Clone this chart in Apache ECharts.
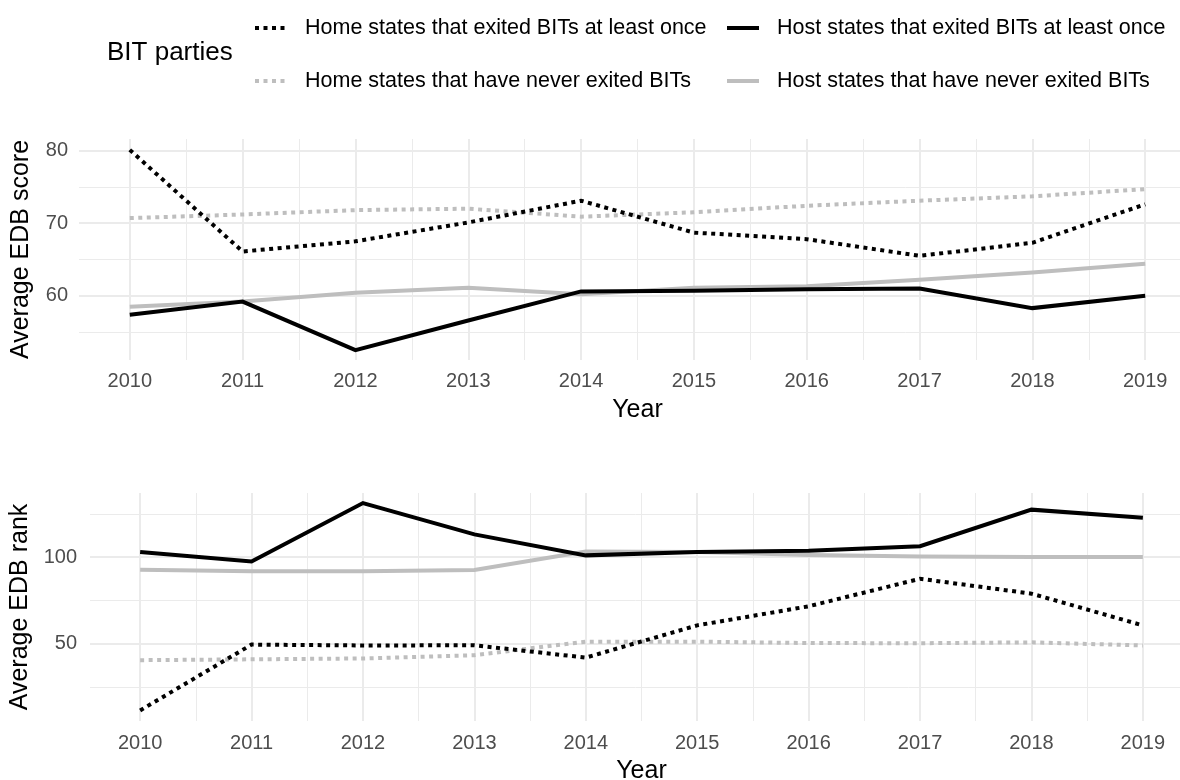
<!DOCTYPE html>
<html>
<head>
<meta charset="utf-8">
<title>BIT parties – EDB score and rank</title>
<script src="https://cdn.jsdelivr.net/npm/echarts@6/dist/echarts.min.js"></script>
<style>
  html, body { margin: 0; padding: 0; background: #ffffff; }
  #chart { width: 1180px; height: 780px; }
</style>
</head>
<body>
<div id="chart"></div>
<script>
// Years on the horizontal axis
const years = [2010, 2011, 2012, 2013, 2014, 2015, 2016, 2017, 2018, 2019];

// Average Ease of Doing Business score
const homeExitedScore = [80.1, 66.1, 67.5, 70.1, 73.1, 68.7, 67.8, 65.5, 67.3, 72.6];
const hostExitedScore = [57.4, 59.2, 52.5, 56.6, 60.6, 60.7, 60.9, 61.0, 58.3, 60.0];
const homeNeverScore  = [70.7, 71.2, 71.8, 72.0, 70.9, 71.5, 72.4, 73.1, 73.7, 74.7];
const hostNeverScore  = [58.5, 59.2, 60.4, 61.1, 60.2, 61.1, 61.3, 62.2, 63.2, 64.4];

// Average Ease of Doing Business rank
const homeExitedRank = [11.5, 49.5, 49.0, 49.1, 42.0, 60.6, 71.6, 87.5, 78.9, 60.6];
const hostExitedRank = [102.9, 97.5, 131.2, 113.1, 101.0, 102.9, 103.7, 106.3, 127.4, 122.7];
const homeNeverRank  = [40.5, 41.0, 41.5, 43.4, 51.2, 51.2, 50.4, 50.3, 50.8, 49.0];
const hostNeverRank  = [92.7, 91.9, 91.9, 92.6, 103.2, 102.9, 101.2, 100.4, 100.0, 100.0];

// Tick values (major and minor grid)
const yearTicks = years;
const yearMinorTicks = [2010.5, 2011.5, 2012.5, 2013.5, 2014.5, 2015.5, 2016.5, 2017.5, 2018.5];
const scoreTicks = [60, 70, 80];
const scoreMinorTicks = [55, 65, 75];
const rankTicks = [50, 100];
const rankMinorTicks = [25, 75, 125];

const seriesNames = [
  'Home states that exited BITs at least once',
  'Host states that exited BITs at least once',
  'Home states that have never exited BITs',
  'Host states that have never exited BITs'
];

const FONT = '"Liberation Sans", Arial, sans-serif';
const GRID_COLOR = '#EBEBEB';
const BLACK = '#000000';
const GREY = '#BEBEBE';
const DOTS = [4, 4.5];

const styles = [
  { color: BLACK, type: DOTS },
  { color: BLACK, type: 'solid' },
  { color: GREY, type: DOTS },
  { color: GREY, type: 'solid' }
];

function pairs(vals) { return years.map((y, i) => [y, vals[i]]); }

function xAxisFor(gridIndex, nameGap, labelMargin) {
  return {
    type: 'value', gridIndex,
    min: 2009.55, max: 2019.45,
    name: 'Year', nameLocation: 'middle', nameGap,
    nameTextStyle: { fontFamily: FONT, fontSize: 25, color: '#000' },
    axisLine: { show: false }, axisTick: { show: false },
    axisLabel: { customValues: yearTicks, fontFamily: FONT, fontSize: 20, color: '#4D4D4D', margin: labelMargin,
                 formatter: v => String(Math.round(v)) },
    splitLine: { show: false }
  };
}
function yAxisFor(gridIndex, min, max, ticks, name, nameGap, labelMargin) {
  return {
    type: 'value', gridIndex, min, max,
    name, nameLocation: 'middle', nameGap, nameRotate: 90,
    nameTextStyle: { fontFamily: FONT, fontSize: 25, color: '#000' },
    axisLine: { show: false }, axisTick: { show: false },
    axisLabel: { customValues: ticks, fontFamily: FONT, fontSize: 20, color: '#4D4D4D', margin: labelMargin },
    splitLine: { show: false }
  };
}

// Background panel grid: thick major lines, thin minor lines
function gridLines(gridIdx, yMajor, yMinor) {
  const major = { color: GRID_COLOR, width: 2, type: 'solid' };
  const minor = { color: GRID_COLOR, width: 1, type: 'solid' };
  const data = []
    .concat(yearMinorTicks.map(v => ({ xAxis: v, lineStyle: minor })))
    .concat(yMinor.map(v => ({ yAxis: v, lineStyle: minor })))
    .concat(yearTicks.map(v => ({ xAxis: v, lineStyle: major })))
    .concat(yMajor.map(v => ({ yAxis: v, lineStyle: major })));
  return {
    type: 'line', xAxisIndex: gridIdx, yAxisIndex: gridIdx, data: [], z: 1, silent: true,
    markLine: {
      silent: true, symbol: ['none', 'none'], animation: false, z: 1,
      label: { show: false }, emphasis: { disabled: true },
      data
    }
  };
}

function makeSeries(gridIdx, datasets) {
  return datasets.map((vals, i) => ({
    name: seriesNames[i],
    type: 'line',
    xAxisIndex: gridIdx,
    yAxisIndex: gridIdx,
    data: pairs(vals),
    symbol: 'none',
    silent: true,
    z: 10 - i,
    lineStyle: { color: styles[i].color, width: 4, type: styles[i].type, cap: 'butt', join: 'miter' },
    itemStyle: { color: styles[i].color },
    animation: false
  }));
}

function legendAt(name, left, top) {
  return {
    data: [name], left, top, padding: 0,
    itemWidth: 32, itemHeight: 14,
    selectedMode: false,
    itemStyle: { opacity: 0 },
    lineStyle: { width: 4 },
    textStyle: { fontFamily: FONT, fontSize: 21.5, color: '#000', padding: [0, 0, 0, 13] }
  };
}

const chart = echarts.init(document.getElementById('chart'), null, { renderer: 'canvas' });
chart.setOption({
  animation: false,
  backgroundColor: '#ffffff',
  title: {
    text: 'BIT parties', left: 107, top: 40, padding: 0,
    textStyle: { fontFamily: FONT, fontSize: 26, fontWeight: 'normal', color: '#000' }
  },
  legend: [
    legendAt(seriesNames[0], 253, 17),
    legendAt(seriesNames[1], 725, 17),
    legendAt(seriesNames[2], 253, 70),
    legendAt(seriesNames[3], 725, 70)
  ],
  grid: [
    { left: 79, top: 139, width: 1117, height: 221, outerBoundsMode: 'none', containLabel: false },
    { left: 90, top: 493, width: 1103, height: 228, outerBoundsMode: 'none', containLabel: false }
  ],
  xAxis: [xAxisFor(0, 38, 11), xAxisFor(1, 38, 12)],
  yAxis: [
    yAxisFor(0, 51.15, 81.6, scoreTicks, 'Average EDB score', 45, 11),
    yAxisFor(1, 5.4, 137, rankTicks, 'Average EDB rank', 56, 13)
  ],
  series: [gridLines(0, scoreTicks, scoreMinorTicks), gridLines(1, rankTicks, rankMinorTicks)]
    .concat(makeSeries(0, [homeExitedScore, hostExitedScore, homeNeverScore, hostNeverScore]))
    .concat(makeSeries(1, [homeExitedRank, hostExitedRank, homeNeverRank, hostNeverRank]))
});
</script>
</body>
</html>
